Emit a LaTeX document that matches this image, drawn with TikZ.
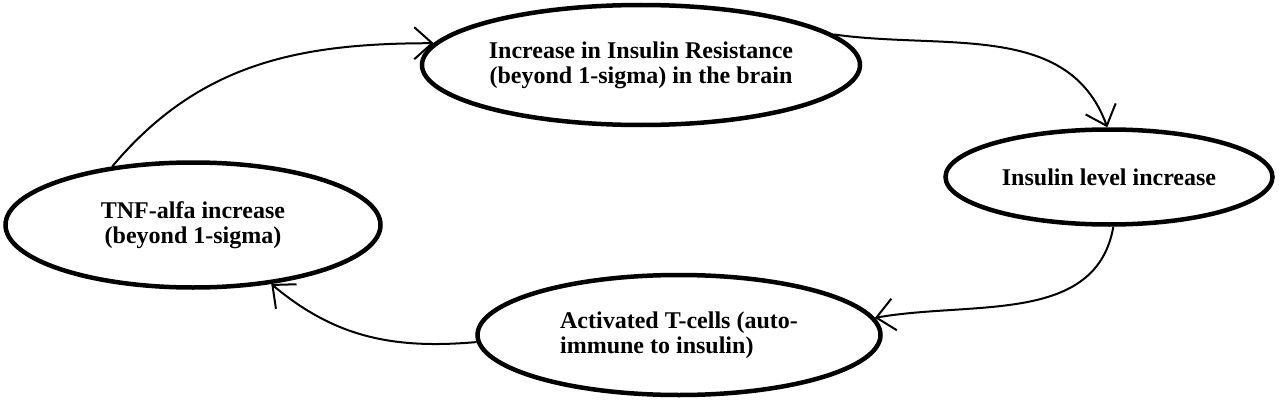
\documentclass[tikz,border=0pt]{standalone}
\usepackage{fontspec}
\setmainfont{Liberation Serif}
\usetikzlibrary{shapes.geometric,arrows.meta}

\begin{document}
\begin{tikzpicture}[x=1pt,y=1pt,
  state/.style={ellipse,draw,line width=4.5pt,inner sep=0pt,
    font=\fontsize{24}{25}\selectfont\bfseries},
  arr/.style={line width=2pt,-{Straight Barb[length=18pt,width=32pt,line width=2pt]}}]
  \useasboundingbox (0,0) rectangle (1280,400);
  \node[state,minimum width=438pt,minimum height=120pt,align=center] (ir) at (641,335)
    {Increase in Insulin Resistance\\ (beyond 1-sigma) in the brain};
  \node[state,minimum width=327pt,minimum height=95pt] (il) at (1109,223)
    {Insulin level increase};
  \node[state,minimum width=403pt,minimum height=120pt,align=left] (at) at (679,65)
    {Activated T-cells (auto-\\immune to insulin)};
  \node[state,minimum width=375pt,minimum height=125pt,align=center] (tnf) at (193,175)
    {TNF-alfa increase\\(beyond 1-sigma)};
  \path[arr]
    (ir.9) edge[out=-8,in=110] (il.92)
    (il.-85) edge[out=-100,in=10] (at.5)
    (at.182) edge[out=185,in=-40] (tnf.-37)
    (tnf.144) edge[out=50,in=180] (ir.174);
\end{tikzpicture}
\end{document}
